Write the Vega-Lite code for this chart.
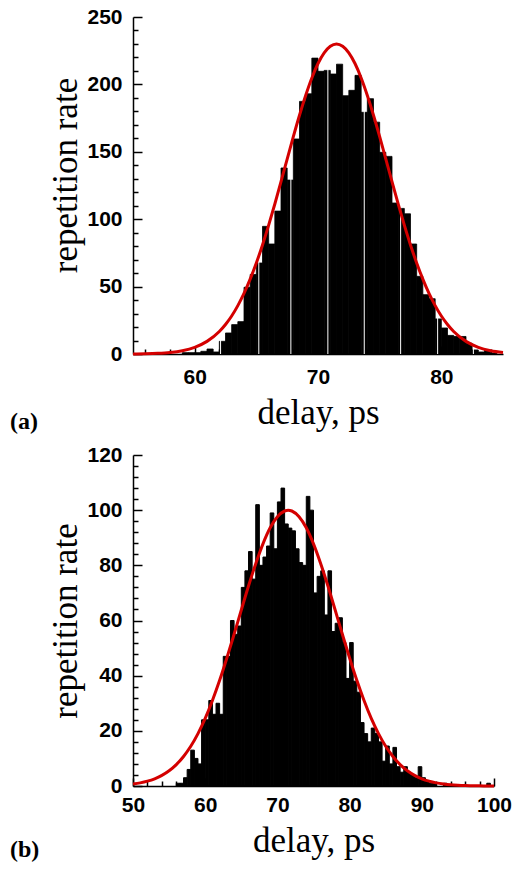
{
  "$schema": "https://vega.github.io/schema/vega-lite/v6.json",
  "background": "white",
  "padding": {"left": 9, "top": 6, "right": 0, "bottom": 0},
  "spacing": 10,
  "config": {
    "view": {"stroke": null},
    "axis": {
      "domainColor": "black", "domainWidth": 1.5, "tickColor": "black", "tickWidth": 1.5,
      "grid": false, "labelFont": "Liberation Sans", "labelFontSize": 21, "labelFontWeight": "bold",
      "labelColor": "black", "titleFont": "Liberation Serif", "titleFontSize": 35, "titleFontWeight": "normal",
      "titleColor": "black", "labelFlush": false, "labelOverlap": false, "zindex": 1
    }
  },
  "datasets": {
    "a_bars": [
      {"start": 59.0, "end": 59.5, "count": 1}, {"start": 59.5, "end": 60.0, "count": 1},
      {"start": 60.0, "end": 60.5, "count": 1}, {"start": 60.5, "end": 61.0, "count": 2},
      {"start": 61.0, "end": 61.5, "count": 3.7}, {"start": 61.5, "end": 62.0, "count": 1.5},
      {"start": 62.0, "end": 62.5, "count": 9.4}, {"start": 62.5, "end": 63.0, "count": 15.6},
      {"start": 63.0, "end": 63.5, "count": 21.8}, {"start": 63.5, "end": 64.0, "count": 24},
      {"start": 64.0, "end": 64.5, "count": 49.5}, {"start": 64.5, "end": 65.0, "count": 59},
      {"start": 65.0, "end": 65.5, "count": 67.5}, {"start": 65.5, "end": 66.0, "count": 94.7},
      {"start": 66.0, "end": 66.5, "count": 81.6}, {"start": 66.5, "end": 67.0, "count": 106},
      {"start": 67.0, "end": 67.5, "count": 138}, {"start": 67.5, "end": 68.0, "count": 129},
      {"start": 68.0, "end": 68.5, "count": 159.5}, {"start": 68.5, "end": 69.0, "count": 187.4},
      {"start": 69.0, "end": 69.5, "count": 193}, {"start": 69.5, "end": 70.0, "count": 219.5},
      {"start": 70.0, "end": 70.5, "count": 209.7}, {"start": 70.5, "end": 71.0, "count": 210.4},
      {"start": 71.0, "end": 71.5, "count": 207.7}, {"start": 71.5, "end": 72.0, "count": 215},
      {"start": 72.0, "end": 72.5, "count": 191.6}, {"start": 72.5, "end": 73.0, "count": 195.6},
      {"start": 73.0, "end": 73.5, "count": 206.7}, {"start": 73.5, "end": 74.0, "count": 179.3},
      {"start": 74.0, "end": 74.5, "count": 189.4}, {"start": 74.5, "end": 75.0, "count": 172},
      {"start": 75.0, "end": 75.5, "count": 149.6}, {"start": 75.5, "end": 76.0, "count": 146.6},
      {"start": 76.0, "end": 76.5, "count": 112}, {"start": 76.5, "end": 77.0, "count": 108},
      {"start": 77.0, "end": 77.5, "count": 104}, {"start": 77.5, "end": 78.0, "count": 81.6},
      {"start": 78.0, "end": 78.5, "count": 57.6}, {"start": 78.5, "end": 79.0, "count": 44},
      {"start": 79.0, "end": 79.5, "count": 41}, {"start": 79.5, "end": 80.0, "count": 26},
      {"start": 80.0, "end": 80.5, "count": 19.3}, {"start": 80.5, "end": 81.0, "count": 13.8},
      {"start": 81.0, "end": 81.5, "count": 13}, {"start": 81.5, "end": 82.0, "count": 13},
      {"start": 82.0, "end": 82.5, "count": 8}, {"start": 82.5, "end": 83.0, "count": 3},
      {"start": 83.0, "end": 83.5, "count": 1.5}, {"start": 83.5, "end": 84.0, "count": 3},
      {"start": 84.0, "end": 84.5, "count": 0.7}
    ],
    "a_gaps": [
      {"x": 62.1}, {"x": 65.2}, {"x": 67.8}, {"x": 70.8}, {"x": 73.75}, {"x": 76.7}, {"x": 79.7}, {"x": 82.6}
    ],
    "a_curve": [
      {"x": 55, "y": 0.09}, {"x": 56, "y": 0.21}, {"x": 57, "y": 0.51}, {"x": 58, "y": 1.16},
      {"x": 59, "y": 2.47}, {"x": 60, "y": 4.95}, {"x": 61, "y": 9.37}, {"x": 62, "y": 16.7},
      {"x": 62.5, "y": 21.9}, {"x": 63, "y": 28.2}, {"x": 63.5, "y": 35.9}, {"x": 64, "y": 44.9},
      {"x": 64.5, "y": 55.5}, {"x": 65, "y": 67.5}, {"x": 65.5, "y": 80.9}, {"x": 66, "y": 95.6},
      {"x": 66.5, "y": 111.3}, {"x": 67, "y": 127.8}, {"x": 67.5, "y": 144.6}, {"x": 68, "y": 161.2},
      {"x": 68.5, "y": 177.1}, {"x": 69, "y": 191.8}, {"x": 69.5, "y": 204.8}, {"x": 70, "y": 215.5},
      {"x": 70.5, "y": 223.4}, {"x": 71, "y": 228.3}, {"x": 71.5, "y": 230}, {"x": 72, "y": 228.3},
      {"x": 72.5, "y": 223.4}, {"x": 73, "y": 215.5}, {"x": 73.5, "y": 204.8}, {"x": 74, "y": 191.8},
      {"x": 74.5, "y": 177.1}, {"x": 75, "y": 161.2}, {"x": 75.5, "y": 144.6}, {"x": 76, "y": 127.8},
      {"x": 76.5, "y": 111.3}, {"x": 77, "y": 95.6}, {"x": 77.5, "y": 80.9}, {"x": 78, "y": 67.5},
      {"x": 78.5, "y": 55.5}, {"x": 79, "y": 44.9}, {"x": 79.5, "y": 35.9}, {"x": 80, "y": 28.2},
      {"x": 80.5, "y": 21.9}, {"x": 81, "y": 16.7}, {"x": 82, "y": 9.37}, {"x": 83, "y": 4.95},
      {"x": 84, "y": 2.47}, {"x": 85, "y": 1.16}
    ],
    "b_bars": [
      {"start": 56.0, "end": 56.5, "count": 1}, {"start": 56.5, "end": 57.0, "count": 1},
      {"start": 57.0, "end": 57.5, "count": 3}, {"start": 57.5, "end": 58.0, "count": 6},
      {"start": 58.0, "end": 58.5, "count": 13}, {"start": 58.5, "end": 59.0, "count": 10},
      {"start": 59.0, "end": 59.5, "count": 8}, {"start": 59.5, "end": 60.0, "count": 24},
      {"start": 60.0, "end": 60.5, "count": 24}, {"start": 60.5, "end": 61.0, "count": 31},
      {"start": 61.0, "end": 61.5, "count": 26}, {"start": 61.5, "end": 62.0, "count": 30},
      {"start": 62.0, "end": 62.5, "count": 26}, {"start": 62.5, "end": 63.0, "count": 47},
      {"start": 63.0, "end": 63.5, "count": 47}, {"start": 63.5, "end": 64.0, "count": 60},
      {"start": 64.0, "end": 64.5, "count": 55}, {"start": 64.5, "end": 65.0, "count": 58},
      {"start": 65.0, "end": 65.5, "count": 72}, {"start": 65.5, "end": 66.0, "count": 78},
      {"start": 66.0, "end": 66.5, "count": 85}, {"start": 66.5, "end": 67.0, "count": 75},
      {"start": 67.0, "end": 67.5, "count": 102}, {"start": 67.5, "end": 68.0, "count": 80},
      {"start": 68.0, "end": 68.5, "count": 83}, {"start": 68.5, "end": 69.0, "count": 87},
      {"start": 69.0, "end": 69.5, "count": 99}, {"start": 69.5, "end": 70.0, "count": 86},
      {"start": 70.0, "end": 70.5, "count": 103}, {"start": 70.5, "end": 71.0, "count": 108},
      {"start": 71.0, "end": 71.5, "count": 95}, {"start": 71.5, "end": 72.0, "count": 93.5},
      {"start": 72.0, "end": 72.5, "count": 92.5}, {"start": 72.5, "end": 73.0, "count": 86},
      {"start": 73.0, "end": 73.5, "count": 81}, {"start": 73.5, "end": 74.0, "count": 80},
      {"start": 74.0, "end": 74.5, "count": 105}, {"start": 74.5, "end": 75.0, "count": 100},
      {"start": 75.0, "end": 75.5, "count": 70}, {"start": 75.5, "end": 76.0, "count": 76},
      {"start": 76.0, "end": 76.5, "count": 78}, {"start": 76.5, "end": 77.0, "count": 62},
      {"start": 77.0, "end": 77.5, "count": 78}, {"start": 77.5, "end": 78.0, "count": 56},
      {"start": 78.0, "end": 78.5, "count": 59}, {"start": 78.5, "end": 79.0, "count": 61},
      {"start": 79.0, "end": 79.5, "count": 52}, {"start": 79.5, "end": 80.0, "count": 39},
      {"start": 80.0, "end": 80.5, "count": 52}, {"start": 80.5, "end": 81.0, "count": 38},
      {"start": 81.0, "end": 81.5, "count": 34}, {"start": 81.5, "end": 82.0, "count": 23},
      {"start": 82.0, "end": 82.5, "count": 19}, {"start": 82.5, "end": 83.0, "count": 16},
      {"start": 83.0, "end": 83.5, "count": 21}, {"start": 83.5, "end": 84.0, "count": 19},
      {"start": 84.0, "end": 84.5, "count": 16}, {"start": 84.5, "end": 85.0, "count": 9},
      {"start": 85.0, "end": 85.5, "count": 14.5}, {"start": 85.5, "end": 86.0, "count": 8},
      {"start": 86.0, "end": 86.5, "count": 14}, {"start": 86.5, "end": 87.0, "count": 7},
      {"start": 87.0, "end": 87.5, "count": 5}, {"start": 87.5, "end": 88.0, "count": 7},
      {"start": 88.0, "end": 88.5, "count": 5}, {"start": 88.5, "end": 89.0, "count": 4},
      {"start": 89.0, "end": 89.5, "count": 3}, {"start": 89.5, "end": 90.0, "count": 7},
      {"start": 90.0, "end": 90.5, "count": 3}, {"start": 90.5, "end": 91.0, "count": 2},
      {"start": 91.0, "end": 91.5, "count": 1}, {"start": 91.5, "end": 92.0, "count": 1},
      {"start": 93.0, "end": 93.5, "count": 1}, {"start": 95.0, "end": 95.5, "count": 0.5},
      {"start": 99.0, "end": 99.5, "count": 1}
    ],
    "b_curve": [
      {"x": 50, "y": 0.73}, {"x": 51, "y": 1.14}, {"x": 52, "y": 1.75}, {"x": 53, "y": 2.62},
      {"x": 54, "y": 3.85}, {"x": 55, "y": 5.52}, {"x": 56, "y": 7.76}, {"x": 57, "y": 10.7},
      {"x": 58, "y": 14.4}, {"x": 59, "y": 19.0}, {"x": 60, "y": 24.5}, {"x": 61, "y": 31.0},
      {"x": 62, "y": 38.3}, {"x": 63, "y": 46.4}, {"x": 64, "y": 55.0}, {"x": 65, "y": 63.8},
      {"x": 66, "y": 72.5}, {"x": 67, "y": 80.6}, {"x": 68, "y": 87.8}, {"x": 69, "y": 93.6},
      {"x": 70, "y": 97.6}, {"x": 71, "y": 99.7}, {"x": 71.5, "y": 100}, {"x": 72, "y": 99.7},
      {"x": 73, "y": 97.6}, {"x": 74, "y": 93.6}, {"x": 75, "y": 87.8}, {"x": 76, "y": 80.6},
      {"x": 77, "y": 72.5}, {"x": 78, "y": 63.8}, {"x": 79, "y": 55.0}, {"x": 80, "y": 46.4},
      {"x": 81, "y": 38.3}, {"x": 82, "y": 31.0}, {"x": 83, "y": 24.5}, {"x": 84, "y": 19.0},
      {"x": 85, "y": 14.4}, {"x": 86, "y": 10.7}, {"x": 87, "y": 7.76}, {"x": 88, "y": 5.52},
      {"x": 89, "y": 3.85}, {"x": 90, "y": 2.62}, {"x": 91, "y": 1.75}, {"x": 92, "y": 1.14},
      {"x": 93, "y": 0.73}, {"x": 94, "y": 0.45}, {"x": 95, "y": 0.28}, {"x": 96, "y": 0.17},
      {"x": 97, "y": 0.1}, {"x": 98, "y": 0.06}, {"x": 99, "y": 0.03}, {"x": 100, "y": 0.02}
    ]
  },
  "vconcat": [
    {
      "width": 370,
      "height": 337,
      "title": {"text": "(a)", "orient": "bottom", "anchor": "start", "frame": "bounds", "font": "Liberation Serif", "fontSize": 24, "fontWeight": "bold", "color": "black", "offset": -20, "dx": -39},
      "resolve": {"axis": {"x": "independent", "y": "independent"}},
      "layer": [
        {
          "data": {"name": "a_bars"},
          "mark": {"type": "bar", "color": "black", "stroke": "black", "strokeWidth": 0.8},
          "encoding": {
            "x": {"field": "start", "type": "quantitative", "scale": {"domain": [55, 85], "nice": false, "zero": false},
              "axis": {"orient": "bottom", "values": [60, 70, 80], "tickSize": -8, "labelPadding": 20, "title": "delay, ps", "titlePadding": 8}},
            "x2": {"field": "end"},
            "y": {"field": "count", "type": "quantitative", "scale": {"domain": [0, 250], "nice": false},
              "axis": {"orient": "left", "values": [0, 50, 100, 150, 200, 250], "tickSize": -9, "labelPadding": 20, "title": "repetition rate", "titlePadding": 3, "titleY": 158}},
            "y2": {"datum": 0}
          }
        },
        {
          "data": {"name": "a_gaps"},
          "mark": {"type": "rule", "color": "white", "strokeWidth": 1},
          "encoding": {"x": {"field": "x", "type": "quantitative", "axis": null}}
        },
        {
          "data": {"name": "a_curve"},
          "mark": {"type": "line", "color": "#d40000", "strokeWidth": 3, "interpolate": "monotone"},
          "encoding": {
            "x": {"field": "x", "type": "quantitative",
              "axis": {"orient": "bottom", "values": [56, 58, 62, 64, 66, 68, 72, 74, 76, 78, 82, 84], "tickSize": -5, "labels": false, "domain": false, "title": null}},
            "y": {"field": "y", "type": "quantitative",
              "axis": {"orient": "left", "values": [10, 20, 30, 40, 60, 70, 80, 90, 110, 120, 130, 140, 160, 170, 180, 190, 210, 220, 230, 240], "tickSize": -5, "labels": false, "domain": false, "title": null}}
          }
        }
      ]
    },
    {
      "width": 361,
      "height": 331,
      "title": {"text": "(b)", "orient": "bottom", "anchor": "start", "frame": "bounds", "font": "Liberation Serif", "fontSize": 24, "fontWeight": "bold", "color": "black", "offset": -20, "dx": -39},
      "resolve": {"axis": {"x": "independent", "y": "independent"}},
      "layer": [
        {
          "data": {"name": "b_bars"},
          "mark": {"type": "bar", "color": "black", "stroke": "black", "strokeWidth": 1},
          "encoding": {
            "x": {"field": "start", "type": "quantitative", "scale": {"domain": [50, 100], "nice": false, "zero": false},
              "axis": {"orient": "bottom", "values": [50, 60, 70, 80, 90, 100], "tickSize": -8, "labelPadding": 16, "title": "delay, ps", "titlePadding": 8}},
            "x2": {"field": "end"},
            "y": {"field": "count", "type": "quantitative", "scale": {"domain": [0, 120], "nice": false},
              "axis": {"orient": "left", "values": [0, 20, 40, 60, 80, 100, 120], "tickSize": -9, "labelPadding": 20, "title": "repetition rate", "titlePadding": 3}},
            "y2": {"datum": 0}
          }
        },
        {
          "data": {"name": "b_curve"},
          "mark": {"type": "line", "color": "#d40000", "strokeWidth": 3, "interpolate": "monotone"},
          "encoding": {
            "x": {"field": "x", "type": "quantitative",
              "axis": {"orient": "bottom", "values": [52, 54, 56, 58, 62, 64, 66, 68, 72, 74, 76, 78, 82, 84, 86, 88, 92, 94, 96, 98], "tickSize": -5, "labels": false, "domain": false, "title": null}},
            "y": {"field": "y", "type": "quantitative",
              "axis": {"orient": "left", "values": [4, 8, 12, 16, 24, 28, 32, 36, 44, 48, 52, 56, 64, 68, 72, 76, 84, 88, 92, 96, 104, 108, 112, 116], "tickSize": -5, "labels": false, "domain": false, "title": null}}
          }
        }
      ]
    }
  ]
}
